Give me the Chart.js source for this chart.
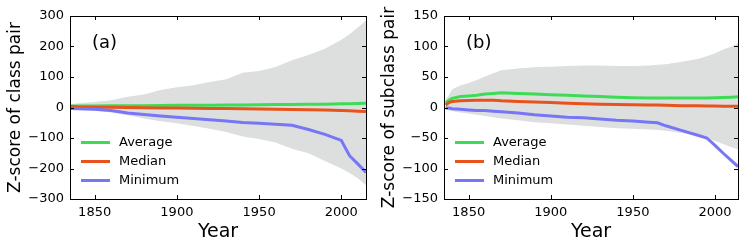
<!DOCTYPE html>
<html><head><meta charset="utf-8">
<script src="https://cdn.jsdelivr.net/npm/chart.js@4/dist/chart.umd.min.js"></script>
<style>
html,body{margin:0;padding:0;background:#fff;}
#wrap{position:relative;width:748px;height:249px;}
.c{position:absolute;top:0;width:374px;height:249px;}
</style></head>
<body><div id="wrap">
<div class="c" style="left:0"><canvas id="ca"></canvas></div>
<div class="c" style="left:374px"><canvas id="cb"></canvas></div>
</div>
<script>
// ---------- data ----------
const seriesNames = ['Average', 'Median', 'Minimum'];
const xTicks = [1850, 1900, 1950, 2000];

const yearsA = [1835,1840,1850,1860,1870,1880,1890,1900,1910,1920,1930,1940,1950,1960,1970,1980,1990,2000,2005,2010,2015];
const upperA = [11,14,18,24,35,43,57,66,73,84,93,114,120,133,155,172,193,222,240,262,285];
const lowerA = [-7,-8,-11,-16,-25,-36,-45,-52,-61,-70,-80,-95,-103,-115,-135,-150,-175,-200,-215,-232,-255];
const avgA   = [5,5,5,5.5,6,6,6.5,7,7,7.5,8,8.5,9,9.5,10,10.5,11,12,12.5,13,14];
const medA   = [3,2,1,0.5,0,-1,-1.5,-2,-2.5,-3,-3.5,-4,-5,-5.5,-6.5,-7.5,-8.5,-10,-11,-12,-13];
const minA   = [-3,-4,-6,-10,-18,-23,-28,-32,-36,-40,-44,-49,-52,-55,-58,-72,-88,-108,-158,-185,-213];
const yTicksA = [-300,-200,-100,0,100,200,300];

const yearsB = [1836,1838,1840,1845,1850,1855,1860,1865,1870,1880,1890,1900,1910,1920,1930,1940,1950,1960,1965,1970,1980,1990,1995,2000,2005,2010,2014];
const upperB = [12,20,30,36,40,45,51,56,61,64,66,67,68,69,69,68,68,69,70,71,75,80,84,89,95,100,105];
const lowerB = [-3,-5,-6,-8,-10,-12,-14,-16,-18,-21,-24,-26,-28,-30,-32,-34,-35,-36,-37,-38,-42,-47,-50,-55,-60,-65,-69];
const avgB   = [8,12,15,18,19,20,22,23,24,23,22,21,20,19,18,17,16,15.5,15.5,15.5,15.5,15.5,15.5,16,16.5,17,17.5];
const medB   = [4,8,10,11,11.5,12,12,12,11,10,9,8,7,6,5.5,5,4.5,4,4,3.5,3,3,2.5,2.5,2,2,2];
const minB   = [-1,-1,-2,-3,-4,-5,-5,-6,-7,-9,-12,-14,-16,-17,-19,-21,-22,-24,-25,-30,-38,-46,-50,-62,-75,-87,-97];
const yTicksB = [-150,-100,-50,0,50,100,150];

// ---------- style ----------
const colors = ['#3ddc55', '#e8531c', '#7676f6'];
const bandColor = '#dcdfde';
const FONT = 'DejaVu Sans';

function pts(xs, ys){ return xs.map((x,i)=>({x:x, y:ys[i]})); }

const framePlugin = {
  id:'frame',
  afterDraw(chart){
    const {ctx, chartArea:a, scales} = chart;
    ctx.save();
    ctx.strokeStyle = '#000';
    ctx.lineWidth = 1;
    ctx.strokeRect(Math.round(a.left)+0.5, Math.round(a.top)+0.5, Math.round(a.right-a.left), Math.round(a.bottom-a.top));
    const L = 4;
    ctx.beginPath();
    scales.x.ticks.forEach(t=>{
      const px = Math.round(scales.x.getPixelForValue(t.value))+0.5;
      ctx.moveTo(px, a.bottom); ctx.lineTo(px, a.bottom-L);
      ctx.moveTo(px, a.top); ctx.lineTo(px, a.top+L);
    });
    scales.y.ticks.forEach(t=>{
      const py = Math.round(scales.y.getPixelForValue(t.value))+0.5;
      ctx.moveTo(a.left, py); ctx.lineTo(a.left+L, py);
      ctx.moveTo(a.right, py); ctx.lineTo(a.right-L, py);
    });
    ctx.stroke();
    // panel label
    const o = chart.options.plugins.frame;
    ctx.fillStyle = '#000';
    ctx.font = '18px "' + FONT + '"';
    ctx.textBaseline = 'middle';
    ctx.textAlign = 'left';
    ctx.fillText(o.label, a.left + 22, a.top + 27);
    // legend
    ctx.font = '13px "' + FONT + '"';
    const lx = a.left + 11, ly = a.top + 126;
    chart.data.datasets.forEach((ds, i)=>{
      if (ds.isBand) return;
      const y = ly + ds.legendIndex*19;
      ctx.strokeStyle = ds.borderColor;
      ctx.lineWidth = 3;
      ctx.beginPath(); ctx.moveTo(lx, y+0.5); ctx.lineTo(lx+29, y+0.5); ctx.stroke();
      ctx.fillStyle = '#000';
      ctx.fillText(ds.label, lx + 38, y+1);
    });
    ctx.restore();
  }
};

function makeChart(id, years, upper, lower, avg, med, mn, yTicks, yTitle, label, xmax, padRight){
  const ymax = yTicks[yTicks.length-1], ymin = yTicks[0];
  const vals = [avg, med, mn];
  const lines = seriesNames.map((n,i)=>({
    label:n, data:pts(years, vals[i]), borderColor:colors[i], backgroundColor:colors[i],
    borderWidth:3, pointRadius:0, fill:false, tension:0, legendIndex:i, order: 3-i
  }));
  const bands = [
    {label:'upper', isBand:true, data:pts(years, upper), borderWidth:0, borderColor:'rgba(0,0,0,0)', pointRadius:0, backgroundColor:bandColor, fill:'+1', order:10},
    {label:'lower', isBand:true, data:pts(years, lower), borderWidth:0, borderColor:'rgba(0,0,0,0)', pointRadius:0, backgroundColor:bandColor, fill:false, order:11}
  ];
  return new Chart(document.getElementById(id), {
    type:'line',
    data:{datasets: lines.concat(bands)},
    plugins:[framePlugin],
    options:{
      responsive:true, maintainAspectRatio:false, animation:false,
      layout:{padding:{top:16, right:padRight, left:0, bottom:0}},
      plugins:{legend:{display:false}, tooltip:{enabled:false}, filler:{drawTime:'beforeDatasetsDraw'}, frame:{label:label}},
      scales:{
        x:{type:'linear', min:1835, max:xmax,
           afterBuildTicks(s){ s.ticks = xTicks.map(v=>({value:v})); },
           afterFit(s){ s.height = 50; },
           grid:{display:false, drawTicks:false}, border:{display:false},
           ticks:{padding:6, color:'#000', font:{family:FONT, size:13}, maxRotation:0, autoSkip:false,
                  callback:(v)=> String(v)},
           title:{display:true, text:'Year', color:'#000', font:{family:FONT, size:19}, padding:{top:0, bottom:6}}},
        y:{type:'linear', min:ymin, max:ymax,
           afterBuildTicks(s){ s.ticks = yTicks.map(v=>({value:v})); },
           afterFit(s){ s.width = 70; },
           grid:{display:false, drawTicks:false}, border:{display:false},
           ticks:{padding:6, color:'#000', font:{family:FONT, size:13}, autoSkip:false,
                  callback:(v)=> (v<0 ? '\u2212'+Math.abs(v) : ''+v)},
           title:{display:true, text:yTitle, color:'#000', font:{family:FONT, size:17}, padding:{top:5, bottom:0}}}
      }
    }
  });
}

makeChart('ca', yearsA, upperA, lowerA, avgA, medA, minA, yTicksA, 'Z-score of class pair', '(a)', 2015, 8);
makeChart('cb', yearsB, upperB, lowerB, avgB, medB, minB, yTicksB, 'Z-score of subclass pair', '(b)', 2014, 10);
</script>
</body></html>
